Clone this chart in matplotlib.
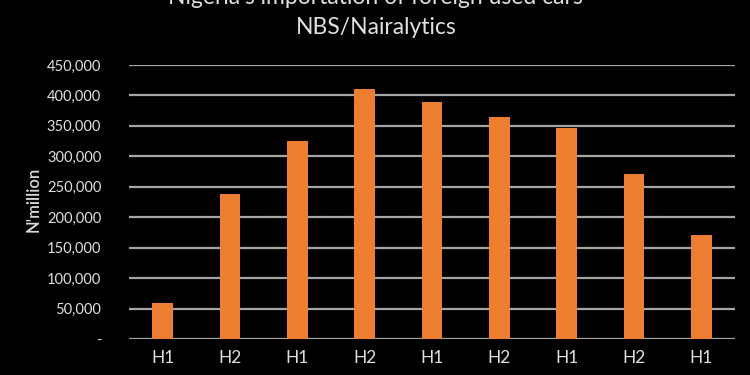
import matplotlib
matplotlib.use('Agg')
from matplotlib import pyplot as plt
from matplotlib.ticker import FuncFormatter

# half-year periods and imports (N'million)
periods = ['H1', 'H2', 'H1', 'H2', 'H1', 'H2', 'H1', 'H2', 'H1']
imports = [59500, 238500, 325000, 410000, 388500, 365000, 346000, 271000, 170000]

plt.rcParams['font.family'] = ['Lato', 'DejaVu Sans']

fig = plt.figure(figsize=(7.5, 3.75), dpi=100, facecolor='black')
ax = fig.add_axes([0.172, 0.096, 0.808, 0.7307])
ax.set_facecolor('black')

x = range(len(periods))
ax.bar(x, imports, width=0.31, color='#ED7D31', zorder=3)

ax.set_xlim(-0.5, len(periods) - 0.5)
ax.set_ylim(0, 450000)
ax.set_yticks(range(0, 450001, 50000))
ax.yaxis.set_major_formatter(FuncFormatter(lambda v, p: '-' if v == 0 else f'{int(v):,}'))
ax.set_xticks(list(x))
ax.set_xticklabels(periods)

ax.yaxis.grid(True, color='#a6a6a6', linewidth=1.6, zorder=0)
for s in ax.spines.values():
    s.set_visible(False)
ax.tick_params(axis='y', length=0, pad=20, labelsize=10.5, labelcolor='#e0e0e0')
ax.tick_params(axis='x', length=0, pad=8, labelsize=12.5, labelcolor='#e0e0e0')

fig.text(0.045, 0.467, "N'million", rotation=90, ha='center', va='center',
         color='#d9d9d9', fontsize=12, fontweight='semibold')

fig.text(0.501, 1.008, "Nigeria's importation of foreign used cars", ha='center', va='center',
         color='#e0e0e0', fontsize=16.5)
fig.text(0.501, 0.928, 'NBS/Nairalytics', ha='center', va='center',
         color='#e0e0e0', fontsize=16.5)

fig.savefig('out.png', dpi=100, facecolor='black')
